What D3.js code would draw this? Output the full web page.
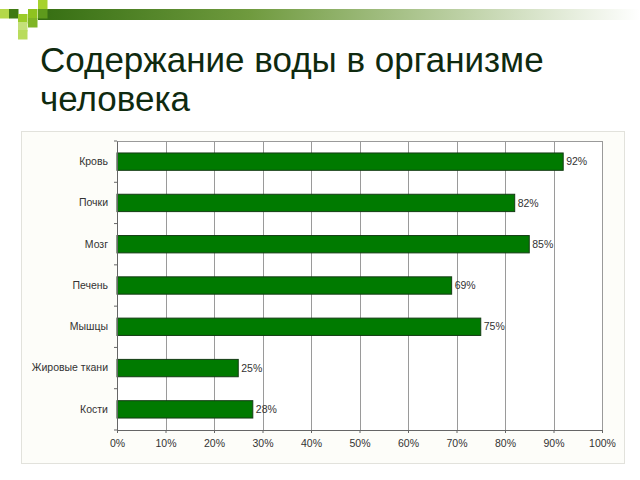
<!DOCTYPE html>
<html><head><meta charset="utf-8">
<script src="https://cdn.jsdelivr.net/npm/d3@7"></script>
<style>html,body{margin:0;padding:0;background:#fff;}svg{display:block;}</style>
</head><body>
<script>
const categories = ["Кровь","Почки","Мозг","Печень","Мышцы","Жировые ткани","Кости"];
const values = [92, 82, 85, 69, 75, 25, 28];
const xTicks = [0,10,20,30,40,50,60,70,80,90,100];
const titleLines = ["Содержание воды в организме","человека"];

const W = 640, H = 480;
const svg = d3.select("body").append("svg").attr("width", W).attr("height", H);
const defs = svg.append("defs");
const grad = defs.append("linearGradient").attr("id","hdr").attr("x1","0").attr("x2","1");
grad.append("stop").attr("offset","0").attr("stop-color","#356e12");
grad.append("stop").attr("offset","0.35").attr("stop-color","#6f9a3e");
grad.append("stop").attr("offset","0.7").attr("stop-color","#bcd0a4");
grad.append("stop").attr("offset","1").attr("stop-color","#ffffff");

// header bar
svg.append("rect").attr("x",38).attr("y",9).attr("width",602).attr("height",11).attr("fill","url(#hdr)");
// mosaic squares
const sq = [
  [0,9,"#b4d84a"],[9,9,"#3f7a12"],[28,9,"#8fc31f"],[38,0,"#a6d22c"],[38,9,"#5e9a1c"],
  [18,14,"#9ccc2a"],[18,22,"#c4e07a"],[28,18,"#7fb526"],[18,30,"#b9dc5c"]
];
svg.selectAll("rect.sq").data(sq).enter().append("rect").attr("class","sq")
  .attr("x",d=>d[0]).attr("y",d=>d[1]).attr("width",9.5).attr("height",9.5).attr("fill",d=>d[2]);

// title
svg.selectAll("text.title").data(titleLines).enter().append("text").attr("class","title")
  .attr("x",40).attr("y",(d,i)=>72+i*39)
  .attr("font-family","Liberation Sans, Arial, sans-serif").attr("font-size",35)
  .attr("fill","#0f2a0f").text(d=>d);

// chart area frame
svg.append("rect").attr("x",21.5).attr("y",131.5).attr("width",603).attr("height",332)
  .attr("fill","#fdfdf9").attr("stroke","#e2e2dc").attr("stroke-width",1);

const x0 = 117, x1 = 602, y0 = 141, y1 = 430;
const x = d3.scaleLinear().domain([0,100]).range([x0,x1]);
const y = d3.scaleBand().domain(categories).range([y0,y1]).paddingInner(0.58).paddingOuter(0.29);

const g = svg.append("g");
g.append("rect").attr("x",x0).attr("y",y0).attr("width",x1-x0).attr("height",y1-y0).attr("fill","#fff");
// gridlines
g.selectAll("line.grid").data(xTicks.slice(1)).enter().append("line").attr("class","grid")
  .attr("x1",d=>Math.round(x(d))+0.5).attr("x2",d=>Math.round(x(d))+0.5)
  .attr("y1",y0).attr("y2",y1).attr("stroke","#9a9a9a").attr("stroke-width",1);
g.append("line").attr("x1",x0).attr("x2",x1).attr("y1",y0+0.5).attr("y2",y0+0.5).attr("stroke","#9a9a9a");

// bars
g.selectAll("rect.bar").data(values).enter().append("rect").attr("class","bar")
  .attr("x",x(0)).attr("y",(d,i)=>y(categories[i]))
  .attr("width",d=>x(d)-x(0)).attr("height",y.bandwidth())
  .attr("fill","#007a00").attr("stroke","#143c14").attr("stroke-width",1);

// value labels
g.selectAll("text.val").data(values).enter().append("text").attr("class","val")
  .attr("x",d=>x(d)+3).attr("y",(d,i)=>y(categories[i])+y.bandwidth()/2)
  .attr("dy","0.35em").attr("font-family","Liberation Sans, Arial, sans-serif").attr("font-size",10.5)
  .attr("fill","#333").text(d=>d+"%");

// x axis
const xAxis = d3.axisBottom(x).tickValues(xTicks).tickFormat(d=>d+"%").tickSize(3).tickPadding(7);
const xa = svg.append("g").attr("transform",`translate(0,${y1})`).call(xAxis);
xa.select(".domain").attr("stroke","#666");
xa.selectAll(".tick line").attr("stroke","#666");
xa.selectAll("text").attr("font-family","Liberation Sans, Arial, sans-serif").attr("font-size",10.5).attr("fill","#333");

// y axis
const yAxis = d3.axisLeft(y).tickSize(0).tickPadding(9);
const ya = svg.append("g").attr("transform",`translate(${x0},0)`).call(yAxis);
ya.select(".domain").attr("stroke","#666");
ya.selectAll("text").attr("font-family","Liberation Sans, Arial, sans-serif").attr("font-size",10.5).attr("fill","#333");
// band boundary ticks
const bounds = d3.range(categories.length+1).map(i=>y0 + i*y.step());
ya.selectAll("line.bt").data(bounds).enter().append("line").attr("class","bt")
  .attr("x1",-3).attr("x2",0).attr("y1",d=>d).attr("y2",d=>d).attr("stroke","#666");
</script>
</body></html>
